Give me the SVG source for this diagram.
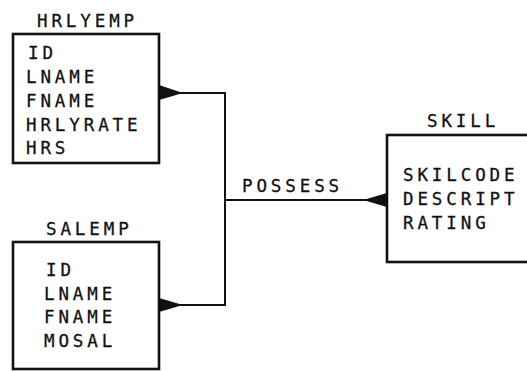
<svg xmlns="http://www.w3.org/2000/svg" width="527" height="371" viewBox="0 0 527 371">
<style>
text{font-family:"DejaVu Sans Mono","Liberation Mono",monospace;font-size:17.5px;letter-spacing:3.9px;fill:#111;stroke:#111;stroke-width:0.3}
.box{fill:#fff;stroke:#111;stroke-width:2.6}
.line{fill:none;stroke:#111;stroke-width:2}
.head{fill:#111;stroke:none}
</style>
<rect width="527" height="371" fill="#fff"/>
<g id="connectors">
<path class="line" d="M159 93 H225 V305 H159"/>
<path class="line" d="M225 200 H387"/>
<polygon class="head" points="159,85 159,100 183,93"/>
<polygon class="head" points="159,298 159,312 183,305"/>
<polygon class="head" points="387,193 387,207 363,200"/>
<text x="242" y="192">POSSESS</text>
</g>
<g id="hrlyemp">
<text x="37" y="27">HRLYEMP</text>
<rect class="box" x="13" y="34" width="146" height="129"/>
<text x="28" y="59">ID</text>
<text x="26" y="83">LNAME</text>
<text x="26" y="107">FNAME</text>
<text x="26" y="131">HRLYRATE</text>
<text x="26" y="154">HRS</text>
</g>
<g id="salemp">
<text x="46" y="235">SALEMP</text>
<rect class="box" x="13" y="242" width="146" height="127"/>
<text x="46" y="276">ID</text>
<text x="44" y="300">LNAME</text>
<text x="44" y="323">FNAME</text>
<text x="44" y="347">MOSAL</text>
</g>
<g id="skill">
<text x="427" y="127">SKILL</text>
<rect class="box" x="387" y="135" width="160" height="127"/>
<text x="403" y="181">SKILCODE</text>
<text x="403" y="205">DESCRIPT</text>
<text x="403" y="229">RATING</text>
</g>
</svg>
